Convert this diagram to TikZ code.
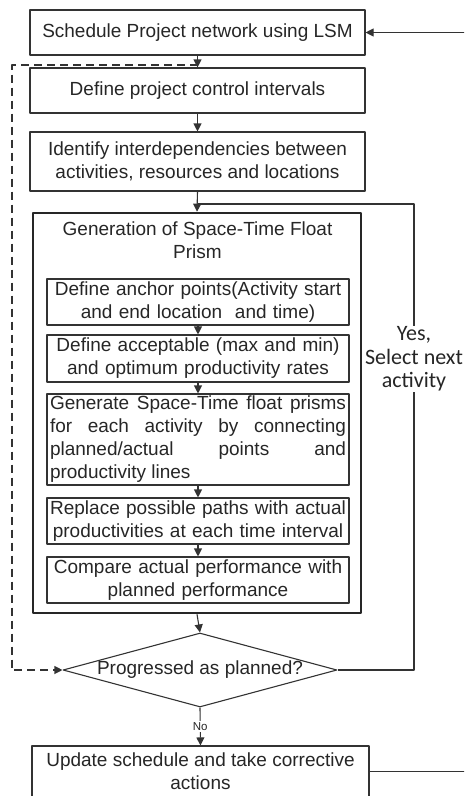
\documentclass[tikz,border=0pt]{standalone}
\usepackage{fontspec}
\setmainfont{Liberation Sans}
\newfontfamily\yesfont{Carlito}
\usetikzlibrary{arrows.meta,shapes.geometric}

\begin{document}
\begin{tikzpicture}[x=1pt, y=-1pt, line join=round,
  font=\fontsize{19}{23}\selectfont, >={Triangle[length=8pt,width=8pt]},
  box/.style={draw=black!80, line width=1.1pt, inner sep=2pt, align=center, text=black!85},
  inbox/.style={box, minimum width=302pt, text width=296pt},
  arr/.style={->, draw=black!80, line width=1.1pt},
  dashline/.style={->, draw=black!80, line width=1.1pt, dash pattern=on 8pt off 5pt}]
  \clip (0,0) rectangle (464,796);
  %Main column
  \node[box, minimum width=335pt, minimum height=45pt] (sched) at (197.5,32.5) {Schedule Project network using LSM};
  \node[box, minimum width=335pt, minimum height=45pt] (ctrl) at (197.5,90.5) {Define project control intervals};
  \node[box, minimum width=335pt, minimum height=59pt] (ident) at (197.5,161.5) {Identify interdependencies between\\activities, resources and locations};
  %Generation block
  \node[draw=black!85, line width=2.6pt, minimum width=328pt, minimum height=400pt] (gen) at (197,413) {};
  \node[align=center, text=black!85] (gentitle) at (197.5,240) {Generation of Space-Time Float\\Prism};
  \node[inbox, minimum height=46pt] (anchor) at (198,302) {Define anchor points(Activity start\\and end location\ \ and time)};
  \node[inbox, minimum height=47pt] (rates) at (198,358.5) {Define acceptable (max and min)\\and optimum productivity rates};
  \node[inbox, minimum height=91pt, align=justify] (prism) at (198,439.5) {\hyphenpenalty=10000 Generate Space-Time float prisms for each activity by connecting\linebreak planned/actual points and\linebreak productivity lines};
  \node[inbox, minimum height=46pt] (paths) at (198,521) {Replace possible paths with actual\\productivities at each time interval};
  \node[inbox, minimum height=46pt] (comp) at (198,580) {Compare actual performance with\\planned performance};
  %Decision
  \node[draw=black!80, line width=1.1pt, shape=diamond, aspect=3.7, inner sep=0pt, minimum width=274pt, minimum height=74pt] (dia) at (200,670) {};
  \node[text=black!85] (diatext) at (dia.center) {Progressed as planned?};
  \node[box, minimum width=337pt, minimum height=51pt] (upd) at (200.5,771.5) {Update schedule and take corrective\\actions};
  %Connectors
  \coordinate (dtop) at (12,65);
  \coordinate (join) at (197.5,204);
  \coordinate (yesx) at (414,400);
  \coordinate (ret) at (472,400);
  \draw[arr] (sched) -- (ctrl);
  \draw[arr] (ctrl) -- (ident);
  \draw[arr] (ident.south) -- (gen.north);
  \draw[arr] (anchor) -- (rates);
  \draw[arr] (rates) -- (prism);
  \draw[arr] (prism) -- (paths);
  \draw[arr] (paths) -- (comp);
  \draw[arr] (gen.south) -- (dia.north);
  \draw[arr] (dia.south) -- node[fill=white, inner sep=1pt, font=\fontsize{11.5}{13}\selectfont, text=black!85] (no) {No} (upd.north);
  \draw[draw=black!80, line width=1.1pt] (dia.east) -| (yesx |- join) -- (join);
  \node[fill=white, align=center, inner sep=1pt, text=black!85, font=\yesfont\fontsize{22}{23.5}\selectfont] (yes) at (414,359) {Yes,\\Select next\\activity};
  \draw[arr] (upd.east) -| (ret) |- (sched.east);
  \draw[dashline] (sched.south |- dtop) -- (dtop) |- (dia.west);
\end{tikzpicture}
\end{document}
